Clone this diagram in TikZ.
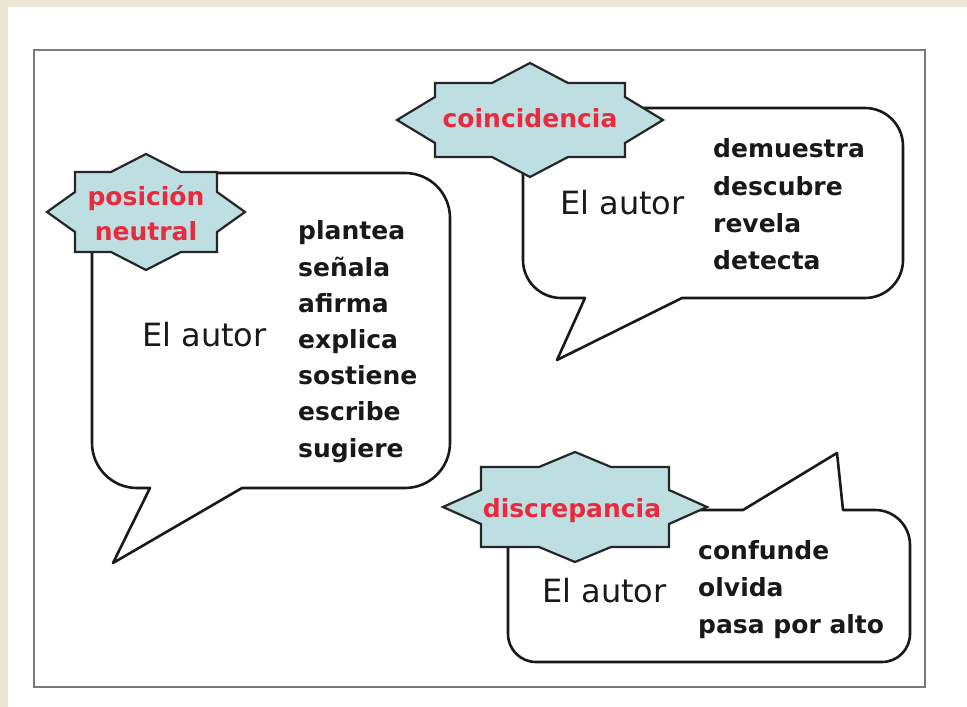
\documentclass[tikz,border=0pt]{standalone}
\usepackage{fontspec}
\setmainfont{DejaVu Sans}
\usepackage{xcolor}
\usetikzlibrary{positioning}

\definecolor{paper}{RGB}{238,230,212}
\definecolor{framegray}{RGB}{122,122,122}
\definecolor{badgeblue}{RGB}{190,223,226}
\definecolor{badgered}{RGB}{232,42,62}

\begin{document}
\begin{tikzpicture}[x=1bp,y=1bp,
  bubble/.style={draw=black!90, line width=2.6bp, fill=white, line join=round},
  badge/.style={draw=black!85, line width=2.2bp, fill=badgeblue},
  badgetext/.style={text=badgered, font=\fontsize{25bp}{35bp}\selectfont\bfseries, inner sep=0pt, align=center},
  verbtext/.style={font=\fontsize{25bp}{37bp}\selectfont\bfseries, text=black!90, inner sep=0pt, anchor=base west},
  autortext/.style={font=\fontsize{32bp}{38bp}\selectfont, text=black!90, inner sep=0pt, anchor=base west}]
\useasboundingbox (0,0) rectangle (967,707);

% Background and frame
\fill[paper] (0,0) rectangle (967,707);
\fill[white] (8,0) rectangle (967,700);
\draw[framegray, line width=2.5bp] (34,20) rectangle (925,657);

% Speech bubbles
\draw[bubble] (92,534) -- (405,534) arc (90:0:45) -- (450,264) arc (0:-90:45)
  -- (242,219) -- (113,144) -- (150,219) -- (137,219) arc (270:180:45) -- cycle;
\draw[bubble] (523,599) -- (865,599) arc (90:0:38) -- (903,447) arc (0:-90:38)
  -- (682,409) -- (557,347) -- (585,409) -- (561,409) arc (270:180:38) -- cycle;
\draw[bubble] (508,197) -- (743,197) -- (837,254) -- (843,197) -- (875,197) arc (90:0:35)
  -- (910,73) arc (0:-90:28) -- (536,45) arc (270:180:28) -- cycle;

% Badges
\draw[badge, shift={(146,495)}] (-71,40) -- (-35,40) -- (0,58) -- (35,40) -- (71,40) -- (71,20)
  -- (99,0) -- (71,-20) -- (71,-40) -- (35,-40) -- (0,-58) -- (-35,-40) -- (-71,-40)
  -- (-71,-20) -- (-99,0) -- (-71,20) -- cycle;
\draw[badge, shift={(530,587)}] (-95,37) -- (-38,37) -- (0,57) -- (38,37) -- (95,37) -- (95,23)
  -- (133,0) -- (95,-23) -- (95,-37) -- (38,-37) -- (0,-57) -- (-38,-37) -- (-95,-37)
  -- (-95,-23) -- (-133,0) -- (-95,23) -- cycle;
\draw[badge, shift={(575,200)}] (-94,40) -- (-36,40) -- (0,55) -- (36,40) -- (94,40) -- (94,17)
  -- (132,0) -- (94,-17) -- (94,-40) -- (36,-40) -- (0,-55) -- (-36,-40) -- (-94,-40)
  -- (-94,-17) -- (-132,0) -- (-94,17) -- cycle;

% Badge labels
\node[badgetext] (neutral) at (146,494) {posición\\neutral};
\node[badgetext, anchor=base] (coincide) at (530,579) {coincidencia};
\node[badgetext, anchor=base] (discrepa) at (572,189) {discrepancia};

% Subjects
\node[autortext] (autorA) at (142,360) {El autor};
\node[autortext] (autorB) at (560,492) {El autor};
\node[autortext] (autorC) at (542,104) {El autor};

% Verbs
\foreach \w [count=\i] in {plantea,señala,afirma,explica,sostiene,escribe,sugiere}
  \node[verbtext] (neutral\i) at (298,{467-36.2*(\i-1)}) {\w};
\foreach \w [count=\i] in {demuestra,descubre,revela,detecta}
  \node[verbtext] (coincide\i) at (713,{549-37.3*(\i-1)}) {\w};
\foreach \w [count=\i] in {confunde,olvida,pasa por alto}
  \node[verbtext] (discrepa\i) at (698,{147-36.7*(\i-1)}) {\w};
\end{tikzpicture}
\end{document}
